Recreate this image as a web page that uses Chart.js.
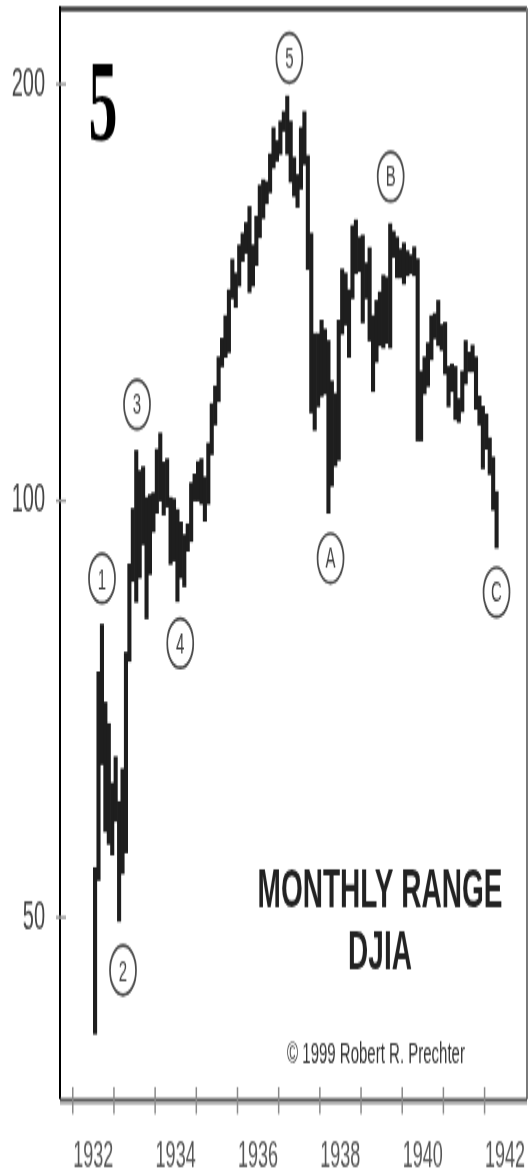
<!DOCTYPE html>
<html>
<head>
<meta charset="utf-8">
<script src="https://cdn.jsdelivr.net/npm/chart.js@4/dist/chart.umd.min.js"></script>
<style>
  html,body{margin:0;padding:0;background:#fff;overflow:hidden;}
  /* the original is a tall, vertically stretched scan: draw at half height, show at full height */
  #chart{display:block;width:531px;height:1175px;}
</style>
</head>
<body>
<canvas id="chart" width="531" height="588" style="width:531px;height:1175px;"></canvas>
<script>
// monthly DJIA range, Jul 1932 .. Apr 1942
const firstYear = 1932, firstMonth = 6; // July
const lows = [
  41.2, 53.2, 64.5, 57.7, 56.5, 55.5,
  58.7, 49.7, 53.8, 55.7, 76.6, 87.5, 84.5, 88.0, 93.0, 82.2, 88.5, 95.0,
  98.0, 100.0, 97.7, 99.0, 90.0, 90.5, 84.6, 88.0, 86.7, 92.0, 93.5, 100.0,
  100.0, 99.5, 96.7, 99.5, 108.0, 113.5, 118.0, 125.0, 127.0, 128.0, 140.0, 138.0,
  143.0, 149.0, 151.0, 141.5, 143.0, 148.0, 155.0, 160.0, 164.0, 167.0, 174.0, 176.0,
  178.0, 185.0, 178.0, 170.0, 166.0, 163.0, 168.0, 175.0, 147.0, 115.8, 112.5, 117.0,
  119.0, 119.5, 98.0, 102.5, 106.0, 107.0, 132.0, 134.0, 127.0, 140.0, 146.0, 146.5,
  134.5, 140.0, 130.5, 120.0, 126.0, 129.5, 129.0, 130.0, 129.0, 150.0, 145.0, 145.0,
  143.5, 145.5, 146.0, 145.5, 110.5, 110.5, 119.5, 121.0, 126.5, 131.0, 129.5, 128.5,
  123.5, 117.0, 120.0, 114.5, 114.0, 116.0, 121.5, 124.0, 124.0, 116.5, 113.5, 105.5,
  109.0, 104.5, 98.5, 92.5
];
const highs = [
  54.3, 75.2, 81.4, 71.5, 69.0, 62.5,
  65.3, 60.6, 64.0, 77.7, 90.0, 98.7, 108.7, 105.1, 105.8, 100.5, 101.0, 101.3,
  108.9, 111.9, 106.6, 107.2, 100.5, 100.3, 98.5, 96.5, 94.5, 96.2, 103.0, 104.5,
  106.7, 107.2, 104.0, 110.0, 117.5, 121.0, 127.0, 131.0, 136.0, 142.0, 149.4, 146.0,
  153.0, 156.0, 158.8, 163.1, 153.0, 160.5, 169.0, 170.5, 170.0, 178.0, 186.0, 182.0,
  188.0, 191.0, 196.0, 188.0, 177.0, 172.0, 186.0, 191.0, 177.5, 156.0, 132.0, 132.0,
  135.0, 133.0, 130.5, 122.0, 119.5, 135.0, 147.0, 146.0, 142.0, 158.0, 159.5, 155.0,
  155.5, 148.5, 152.3, 136.0, 139.5, 141.5, 145.5, 145.0, 158.5, 156.5, 155.0, 152.0,
  153.5, 151.5, 150.5, 152.5, 149.5, 124.0, 127.0, 130.0, 136.0, 136.5, 139.5, 134.0,
  134.5, 125.0, 125.5, 125.0, 118.5, 124.0, 130.5, 128.0, 129.5, 127.0, 119.0, 117.0,
  115.5, 111.0, 107.5, 101.5
];
const yearTicks = [1932,1933,1934,1935,1936,1937,1938,1939,1940,1941,1942];
const yearLabels = [1932,1934,1936,1938,1940,1942];
const priceTicks = [50, 100, 200];

// Elliott wave labels: text, decimal year, price level
const waveText  = ['1','2','3','4','5','A','B','C'];
const waveYear  = [1932.71, 1933.22, 1933.56, 1934.61, 1937.26, 1938.26, 1939.72, 1942.29];
const waveLevel = [87.9, 45.8, 117.4, 78.9, 208.9, 90.9, 171.5, 85.9];

const monthX = i => firstYear + (firstMonth + i + 0.5) / 12;

Chart.defaults.font.family = '"Liberation Sans", Arial, sans-serif';

function seg(ctx, x1, y1, x2, y2, color, w){
  ctx.strokeStyle = color; ctx.lineWidth = w;
  ctx.beginPath(); ctx.moveTo(x1, y1); ctx.lineTo(x2, y2); ctx.stroke();
}

const decor = {
  id: 'decor',
  afterDatasetsDraw(chart){
    const {ctx, chartArea: a, scales: {x, y}} = chart;
    ctx.save();
    // frame
    seg(ctx, a.left, a.top + 0.5, a.right, a.top + 0.5, '#3a3a3a', 2.5);
    seg(ctx, a.right, a.top, a.right, a.bottom, '#7a7a7a', 2);
    seg(ctx, a.left, a.top - 1, a.left, a.bottom, '#000', 2);
    seg(ctx, a.left, a.bottom + 0.5, a.right, a.bottom + 0.5, '#555', 2.2);
    seg(ctx, a.left, a.bottom + 2.2, a.right, a.bottom + 2.2, '#aaa', 1.2);
    // tick marks
    x.ticks.forEach(t => { const px = x.getPixelForValue(t.value); seg(ctx, px, a.bottom - 6, px, a.bottom + 7.5, '#8a8a8a', 1.5); });
    y.ticks.forEach(t => { const py = y.getPixelForValue(t.value); seg(ctx, a.left - 4, py, a.left + 6, py, '#9a9a9a', 1.5); });
    // wave labels
    ctx.font = '15px "Liberation Sans", Arial, sans-serif';
    ctx.textAlign = 'center'; ctx.textBaseline = 'middle';
    waveText.forEach((t, i) => {
      const cx = x.getPixelForValue(waveYear[i]), cy = y.getPixelForValue(waveLevel[i]);
      ctx.strokeStyle = '#4a4a4a'; ctx.lineWidth = 1.7;
      ctx.beginPath(); ctx.ellipse(cx, cy, 13, 12.3, 0, 0, Math.PI * 2); ctx.stroke();
      ctx.fillStyle = '#444'; ctx.fillText(t, cx, cy + 1);
    });
    // big wave number
    ctx.fillStyle = '#000'; ctx.textBaseline = 'alphabetic';
    ctx.font = 'bold 58px "Liberation Serif", "Times New Roman", serif';
    ctx.fillText('5', a.left + 43, a.top + 66);
    // titles
    ctx.fillStyle = '#222';
    ctx.font = 'bold 28px "Liberation Sans", Arial, sans-serif';
    ctx.fillText('MONTHLY RANGE', a.left + 320, a.top + 450);
    ctx.fillText('DJIA', a.left + 320, a.top + 481);
    ctx.fillStyle = '#333';
    ctx.font = '15px "Liberation Sans", Arial, sans-serif';
    ctx.fillText('\u00A9 1999 Robert R. Prechter', a.left + 316, a.top + 527.5);
    ctx.restore();
  }
};

new Chart(document.getElementById('chart'), {
  type: 'bar',
  data: {
    datasets: [{
      data: highs.map((h, i) => ({x: monthX(i), y: [lows[i], h]})),
      backgroundColor: '#1e1e1e',
      borderWidth: 0,
      barPercentage: 1,
      categoryPercentage: 1
    }]
  },
  options: {
    responsive: false,
    devicePixelRatio: 1,
    animation: false,
    layout: {padding: {top: 4, right: 4, left: 0, bottom: 0}},
    plugins: {legend: {display: false}, tooltip: {enabled: false}},
    scales: {
      x: {
        type: 'linear', min: 1931.69, max: 1943.03, offset: false,
        afterBuildTicks: s => { s.ticks = yearTicks.map(v => ({value: v})); },
        afterFit: s => { s.height = 38; s.paddingLeft = 0; s.paddingRight = 0; },
        grid: {display: false, drawTicks: false, offset: false},
        border: {display: false},
        ticks: {
          autoSkip: false, maxRotation: 0, labelOffset: 20.5, padding: 18,
          color: '#555', font: {size: 18},
          callback: v => yearLabels.includes(v) ? String(v) : ''
        }
      },
      y: {
        type: 'logarithmic', min: 36.96, max: 227,
        afterBuildTicks: s => { s.ticks = priceTicks.map(v => ({value: v})); },
        afterFit: s => { s.width = 60; s.paddingTop = 0; s.paddingBottom = 0; },
        grid: {display: false, drawTicks: false},
        border: {display: false},
        ticks: {padding: 15, color: '#444', font: {size: 20}, callback: v => String(v)}
      }
    }
  },
  plugins: [decor]
});
</script>
</body>
</html>
